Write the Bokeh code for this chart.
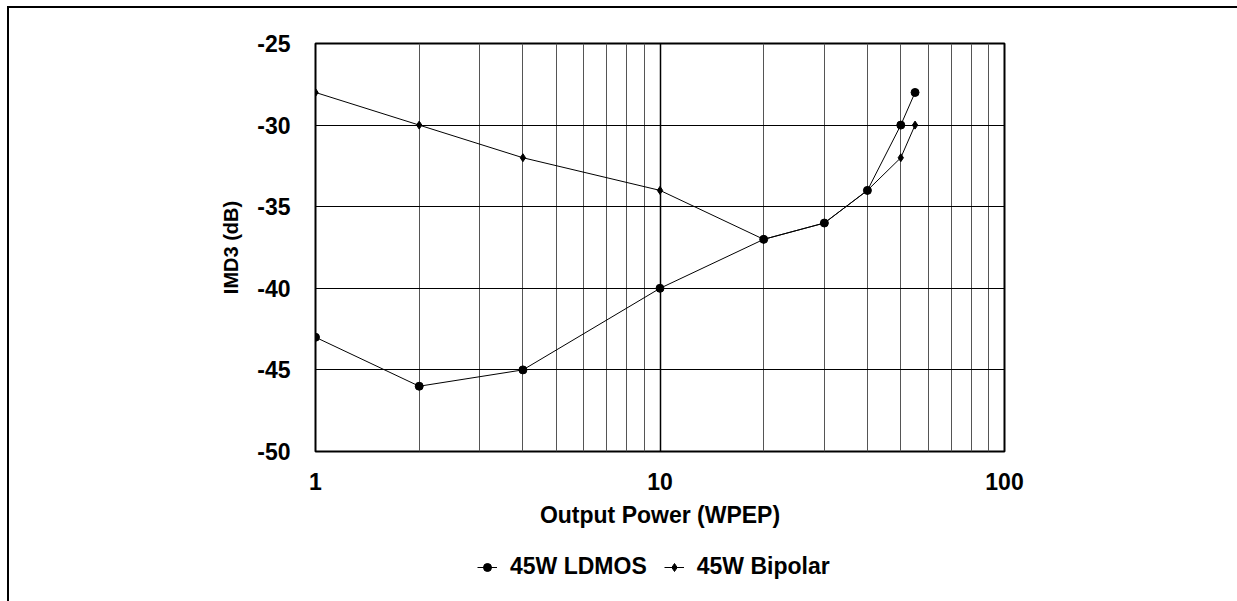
from bokeh.plotting import figure
from bokeh.layouts import column
from bokeh.models import FixedTicker, Legend, LegendItem, Range1d
from bokeh.embed import file_html
from bokeh.resources import INLINE

power_w = [1, 2, 4, 10, 20, 30, 40, 50, 55]
ldmos_db = [-43, -46, -45, -40, -37, -36, -34, -30, -28]
bipolar_db = [-28, -30, -32, -34, -37, -36, -34, -32, -30]

x_major = [1, 10, 100]
x_major_labels = ["1", "10", "100"]
x_minor = [2, 3, 4, 5, 6, 7, 8, 9, 20, 30, 40, 50, 60, 70, 80, 90]
y_ticks = [-50, -45, -40, -35, -30, -25]
y_tick_labels = ["-50", "-45", "-40", "-35", "-30", "-25"]
series_names = ["45W LDMOS", "45W Bipolar"]

FONT = "Liberation Sans"
FS = "23px"

p = figure(width=1228, height=537, x_axis_type="log",
           x_range=Range1d(1, 100), y_range=Range1d(-50, -25),
           output_backend="svg", toolbar_location=None,
           min_border_left=306, min_border_right=233,
           min_border_top=35, min_border_bottom=94)

p.outline_line_color = "black"
p.outline_line_width = 2

p.xaxis.ticker = FixedTicker(ticks=x_major, minor_ticks=x_minor)
p.yaxis.ticker = FixedTicker(ticks=y_ticks)
p.xaxis.major_label_overrides = dict(zip(x_major, x_major_labels))
p.yaxis.major_label_overrides = dict(zip(y_ticks, y_tick_labels))

for ax in (p.xaxis[0], p.yaxis[0]):
    ax.axis_line_color = None
    ax.major_tick_line_color = None
    ax.minor_tick_line_color = None
    ax.major_label_text_font = FONT
    ax.major_label_text_font_style = "bold"
    ax.major_label_text_font_size = FS
    ax.major_label_text_color = "black"
    ax.axis_label_text_font = FONT
    ax.axis_label_text_font_style = "bold"
    ax.axis_label_text_font_size = FS
    ax.axis_label_text_color = "black"

p.yaxis.axis_label_text_font_size = "20px"
p.xaxis.axis_label = "Output Power (WPEP)"
p.yaxis.axis_label = "IMD3 (dB)"
p.xaxis.major_label_standoff = 15
p.xaxis.axis_label_standoff = 9
p.yaxis.major_label_standoff = 19
p.yaxis.axis_label_standoff = 12

p.xgrid.grid_line_color = "black"
p.xgrid.grid_line_width = 1.5
p.xgrid.minor_grid_line_color = "#555555"
p.xgrid.minor_grid_line_width = 1
p.ygrid.grid_line_color = "black"
p.ygrid.grid_line_width = 1

p.line(power_w, ldmos_db, line_color="black", line_width=1)
p.scatter(power_w, ldmos_db, marker="circle", size=8,
          fill_color="black", line_color="black")
p.line(power_w, bipolar_db, line_color="black", line_width=1)
p.scatter(power_w, bipolar_db, marker="diamond", size=8,
          fill_color="black", line_color="black")

# legend strip below the chart (its frame is aligned with the chart's frame);
# its renderers hold the same series but lie outside its visible range
q = figure(width=1228, height=56, x_range=Range1d(1000, 1001), y_range=Range1d(0, 1),
           output_backend="svg", toolbar_location=None,
           x_axis_location=None, y_axis_location=None,
           min_border=0, outline_line_color=None)
q.grid.visible = False
ql1 = q.line(power_w, ldmos_db, line_color="black", line_width=1)
qs1 = q.scatter(power_w, ldmos_db, marker="circle", size=8,
                fill_color="black", line_color="black")
ql2 = q.line(power_w, bipolar_db, line_color="black", line_width=1)
qs2 = q.scatter(power_w, bipolar_db, marker="diamond", size=8,
                fill_color="black", line_color="black")

legend = Legend(items=[LegendItem(label=series_names[0], renderers=[ql1, qs1]),
                       LegendItem(label=series_names[1], renderers=[ql2, qs2])],
                orientation="horizontal", location=(162, 21),
                padding=0, margin=0, spacing=17, label_standoff=13,
                glyph_width=20, glyph_height=20,
                border_line_color=None, background_fill_alpha=0,
                label_text_font=FONT, label_text_font_style="bold",
                label_text_font_size=FS, label_text_color="black")
q.add_layout(legend, "center")

layout = column(p, q, spacing=0)
layout.styles = {"border-top": "2px solid black", "border-left": "2px solid black",
                 "margin-left": "7px", "margin-top": "6px"}

open("out.html", "w").write(file_html(layout, INLINE))
